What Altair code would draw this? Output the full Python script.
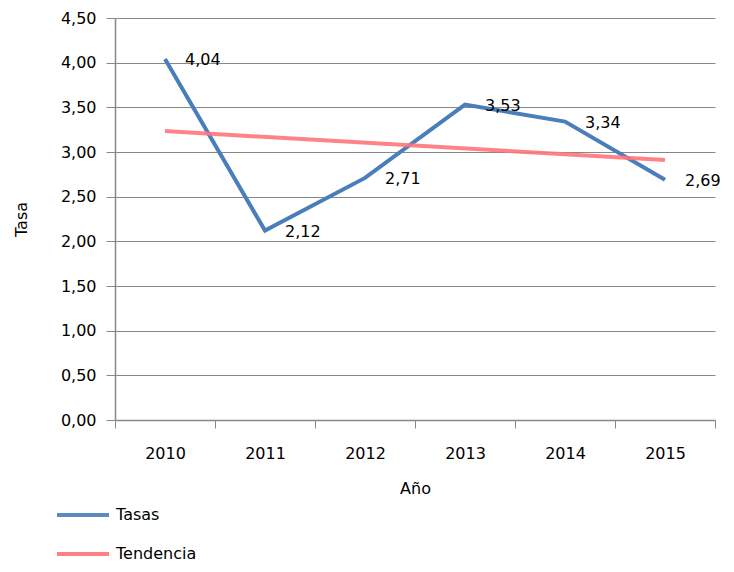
import altair as alt
import pandas as pd

anios = [2010, 2011, 2012, 2013, 2014, 2015]
tasas = [4.04, 2.12, 2.71, 3.53, 3.34, 2.69]
series = ["Tasas", "Tendencia"]
colores = ["#4A7EBB", "#FF7479"]
y_ticks = [0.0, 0.5, 1.0, 1.5, 2.0, 2.5, 3.0, 3.5, 4.0, 4.5]

FONT = "DejaVu Sans"
GRAY = "#888888"

df = pd.DataFrame({"anio": anios, "tasa": tasas})
df["serie"] = "Tasas"

x_enc = alt.X(
    "anio:O",
    scale=alt.Scale(type="band", paddingInner=0, paddingOuter=0),
    bandPosition=0.5,
    axis=alt.Axis(
        title="Año", labelAngle=0, tickBand="extent", tickSize=8,
        labelPadding=17, titlePadding=19, grid=False,
    ),
)
y_enc = alt.Y(
    "tasa:Q",
    scale=alt.Scale(domain=[0, 4.5], nice=False),
    axis=alt.Axis(
        title="Tasa", values=y_ticks, tickSize=9, labelPadding=10,
        labelExpr="replace(format(datum.value, '.2f'), '.', ',')",
        grid=True, titlePadding=31,
    ),
)
color_enc = alt.Color(
    "serie:N",
    scale=alt.Scale(domain=series, range=colores),
    legend=alt.Legend(
        title=None, orient="none", legendX=-60, legendY=487,
        direction="vertical", symbolType="stroke", symbolSize=2704,
        symbolStrokeWidth=4, labelFontSize=16, labelFont=FONT,
        labelOffset=5, clipHeight=20, rowPadding=19, labelColor="#000",
    ),
)

base = alt.Chart(df)

linea = base.mark_line(strokeWidth=4).encode(x=x_enc, y=y_enc, color=color_enc)

tendencia = (
    base.transform_regression("anio", "tasa")
    .transform_calculate(serie="'Tendencia'")
    .mark_line(strokeWidth=4, opacity=0.9)
    .encode(x=x_enc, y=y_enc, color=color_enc)
)

etiquetas = (
    base.transform_calculate(lab="replace(format(datum.tasa, '.2f'), '.', ',')")
    .mark_text(align="left", baseline="middle", dx=20, dy=1, fontSize=16, font=FONT, color="#000")
    .encode(x=x_enc, y=y_enc, text="lab:N")
)

chart = (
    alt.layer(linea, tendencia, etiquetas)
    .properties(
        width=600, height=402,
        autosize=alt.AutoSizeParams(type="none"),
        padding={"left": 107, "top": 10, "right": 11, "bottom": 144},
    )
    .configure_view(stroke=None)
    .configure_axis(
        labelFont=FONT, titleFont=FONT, labelFontSize=16, titleFontSize=16,
        titleFontWeight="normal", labelColor="#000", titleColor="#000",
        domainColor=GRAY, tickColor=GRAY, gridColor=GRAY, domainWidth=1.5,
    )
)

chart.save("out.html", embed_options={"renderer": "svg", "actions": False})
